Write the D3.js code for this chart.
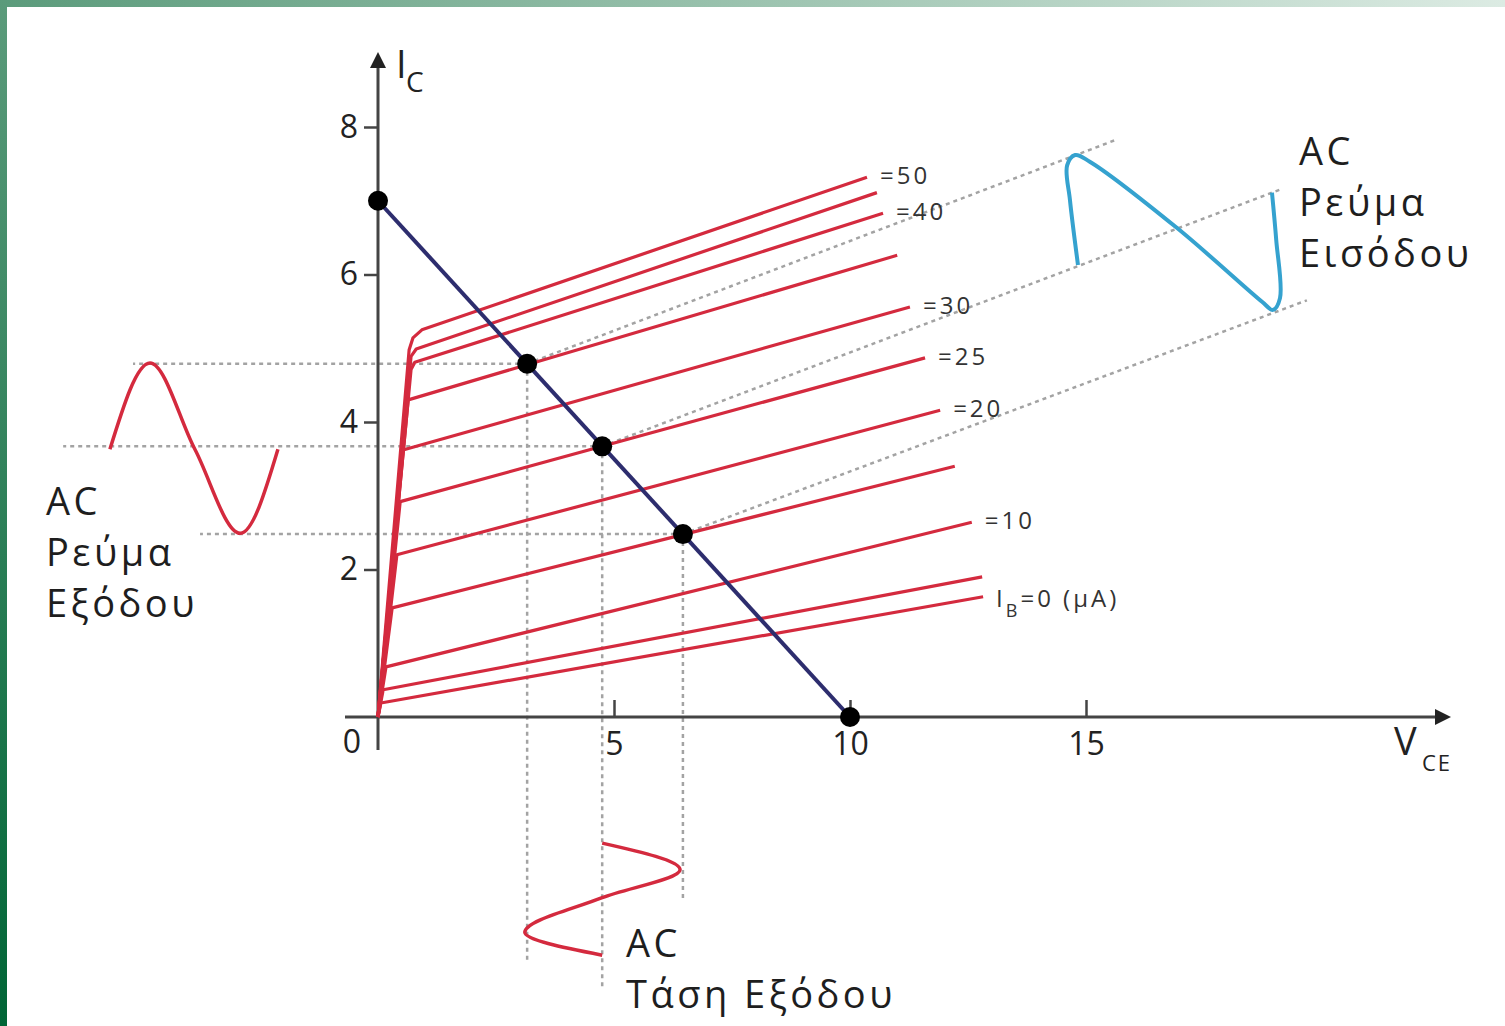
<!DOCTYPE html>
<html>
<head>
<meta charset="utf-8">
<script src="https://cdn.jsdelivr.net/npm/d3@7"></script>
<style>
  body { margin: 0; background: #fff; }
  svg { display: block; font-family: "Open Sans", sans-serif; }
</style>
</head>
<body>
<svg id="chart" width="1505" height="1026"></svg>
<script>
// base current of each output curve (uA), top to bottom
const ibValues = [50, 45, 40, 35, 30, 25, 20, 15, 10, 5, 0];
const ibLabels = ["=50", "", "=40", "", "=30", "=25", "=20", "", "=10", "", "=0 (μA)"];

// each curve: [V_CE, I_C] points
const outCurves = [
  [[0, 0], [0.66, 4.98], [0.74, 5.14], [0.93, 5.25], [10.36, 7.32]],
  [[0, 0], [0.70, 4.89], [0.81, 4.99], [10.57, 7.11]],
  [[0, 0], [0.70, 4.71], [0.78, 4.81], [10.70, 6.83]],
  [[0, 0], [0.64, 4.30], [11.00, 6.26]],
  [[0, 0], [0.53, 3.62], [11.27, 5.56]],
  [[0, 0], [0.47, 2.92], [11.59, 4.87]],
  [[0, 0], [0.40, 2.20], [11.91, 4.16]],
  [[0, 0], [0.30, 1.48], [12.22, 3.40]],
  [[0, 0], [0.17, 0.68], [12.58, 2.64]],
  [[0, 0], [0.11, 0.37], [12.80, 1.90]],
  [[0, 0], [0.06, 0.19], [12.82, 1.63]]
];

const loadLine = [[0, 7], [10, 0]];
const qPoints = [[3.16, 4.79], [4.75, 3.67], [6.46, 2.48]];

// where the dotted guides stop: left, down, up-right
const guideLeft = [-5.19, -6.67, -3.77];
const guideDown = [-3.32, -3.66, -2.51];
const guideDiag = [[15.61, 7.82], [19.11, 7.15], [19.68, 5.65]];

// hand drawn signals
const outCurrentWave = [[-5.68, 3.63], [-4.83, 4.80], [-3.88, 3.63], [-2.92, 2.49], [-2.12, 3.63]];
const outVoltageWave = [[4.75, -1.71], [6.40, -2.07], [4.75, -2.45], [3.11, -2.92], [4.75, -3.23]];
const inCurrentWave = [[14.83, 6.13], [14.66, 7.01], [14.60, 7.48], [14.77, 7.62], [15.08, 7.53],
  [16.93, 6.63], [18.73, 5.63], [18.96, 5.52], [19.11, 5.68], [19.03, 6.47], [18.94, 7.11]];

const xTicks = [5, 10, 15];
const yTicks = [2, 4, 6, 8];

const svg = d3.select("#chart");
const x = d3.scaleLinear().domain([0, 10]).range([378, 850]);
const y = d3.scaleLinear().domain([0, 8]).range([717, 127]);

const red = "#d42a3e", blue = "#35a2cf", navy = "#2d2d6e", axisCol = "#444";

// green frame
const defs = svg.append("defs");
const gTop = defs.append("linearGradient").attr("id", "gtop");
gTop.append("stop").attr("offset", "0%").attr("stop-color", "#5b9b7b");
gTop.append("stop").attr("offset", "100%").attr("stop-color", "#dcebe3");
const gLeft = defs.append("linearGradient").attr("id", "gleft").attr("x2", 0).attr("y2", 1);
gLeft.append("stop").attr("offset", "0%").attr("stop-color", "#5b9b7b");
gLeft.append("stop").attr("offset", "100%").attr("stop-color", "#006536");
svg.append("rect").attr("width", 1505).attr("height", 7).attr("fill", "url(#gtop)");
svg.append("rect").attr("width", 7).attr("height", 1026).attr("fill", "url(#gleft)");

const line = d3.line().x(d => x(d[0])).y(d => y(d[1]));

// dotted guides
const guides = svg.append("g").attr("stroke", "#a3a3a3").attr("stroke-width", 2.5)
  .attr("stroke-dasharray", "4,4").attr("fill", "none");
qPoints.forEach((q, i) => {
  guides.append("path").attr("d", line([q, [guideLeft[i], q[1]]]));
  guides.append("path").attr("d", line([q, [q[0], guideDown[i]]]));
  guides.append("path").attr("d", line([q, guideDiag[i]]));
});

// axes
svg.append("line").attr("x1", x(0)).attr("x2", x(0)).attr("y1", 750).attr("y2", 62)
  .attr("stroke", axisCol).attr("stroke-width", 3);
svg.append("path").attr("d", `M${x(0)},52 L${x(0) - 8},68 L${x(0) + 8},68 Z`).attr("fill", "#222");
svg.append("line").attr("x1", 345).attr("x2", 1440).attr("y1", y(0)).attr("y2", y(0))
  .attr("stroke", axisCol).attr("stroke-width", 3);
svg.append("path").attr("d", `M1451,${y(0)} L1435,${y(0) - 8} L1435,${y(0) + 8} Z`).attr("fill", "#222");

const yAxis = svg.append("g").attr("transform", `translate(${x(0)},0)`)
  .call(d3.axisLeft(y).tickValues(yTicks).tickSize(14).tickPadding(6).tickFormat(d3.format("d")));
const xAxis = svg.append("g").attr("transform", `translate(0,${y(0)})`)
  .call(d3.axisBottom(x).tickValues(xTicks).tickSize(-17).tickPadding(15).tickFormat(d3.format("d")));
[yAxis, xAxis].forEach(a => {
  a.select(".domain").remove();
  a.selectAll(".tick line").attr("stroke", axisCol).attr("stroke-width", 2.5);
  a.selectAll(".tick text").attr("fill", "#222").style("font-size", "32px")
    .style("font-family", "Open Sans");
});
svg.append("text").attr("x", 352).attr("y", 753).attr("text-anchor", "middle")
  .attr("fill", "#222").style("font-size", "32px").text("0");

// axis titles
svg.append("text").attr("x", 396).attr("y", 78).attr("fill", "#222").style("font-size", "38px").text("I");
svg.append("text").attr("x", 406).attr("y", 92).attr("fill", "#222").style("font-size", "28px").text("C");
svg.append("text").attr("x", 1394).attr("y", 755).attr("fill", "#222").style("font-size", "38px").text("V");
svg.append("text").attr("x", 1422).attr("y", 771).attr("fill", "#222").style("font-size", "22px")
  .style("letter-spacing", "2px").text("CE");

// output characteristic curves
svg.append("g").selectAll("path").data(outCurves).join("path")
  .attr("d", line).attr("fill", "none").attr("stroke", red)
  .attr("stroke-width", 3.2).attr("stroke-linejoin", "round");

// curve labels
const lab = svg.append("g").style("font-size", "24px").style("letter-spacing", "3px").attr("fill", "#333");
outCurves.forEach((c, i) => {
  if (!ibLabels[i]) return;
  const end = c[c.length - 1];
  const t = lab.append("text").attr("x", x(end[0]) + 13).attr("y", y(end[1]) + 7);
  if (ibValues[i] === 0) {
    t.attr("y", y(end[1]) + 10);
    t.append("tspan").text("I");
    t.append("tspan").attr("dy", 10).style("font-size", "18px").text("B");
    t.append("tspan").attr("dy", -10).text(ibLabels[i]);
  } else {
    t.text(ibLabels[i]);
  }
});

// load line
svg.append("path").attr("d", line(loadLine)).attr("stroke", navy).attr("stroke-width", 4).attr("fill", "none");

// signals
svg.append("path").attr("d", line.curve(d3.curveMonotoneX)(outCurrentWave))
  .attr("fill", "none").attr("stroke", red).attr("stroke-width", 3.5);
svg.append("path").attr("d", d3.line().x(d => x(d[0])).y(d => y(d[1])).curve(d3.curveMonotoneY)(outVoltageWave))
  .attr("fill", "none").attr("stroke", red).attr("stroke-width", 3.5);
svg.append("path").attr("d", d3.line().x(d => x(d[0])).y(d => y(d[1])).curve(d3.curveCatmullRom.alpha(0.5))(inCurrentWave))
  .attr("fill", "none").attr("stroke", blue).attr("stroke-width", 4).attr("stroke-linejoin", "round");

// operating points
svg.append("g").selectAll("circle").data([loadLine[0], ...qPoints, loadLine[1]]).join("circle")
  .attr("cx", d => x(d[0])).attr("cy", d => y(d[1])).attr("r", 10).attr("fill", "#000");

// text blocks
function block(x0, y0, lines, gap) {
  const t = svg.append("g").style("font-size", "38px").style("letter-spacing", "3.5px").attr("fill", "#1e1e1e");
  lines.forEach((s, i) => t.append("text").attr("x", x0).attr("y", y0 + i * gap).text(s));
}
block(46, 515, ["AC", "Ρεύμα", "Εξόδου"], 51);
block(1299, 165, ["AC", "Ρεύμα", "Εισόδου"], 51);
block(626, 957, ["AC", "Τάση Εξόδου"], 51);
</script>
</body>
</html>
